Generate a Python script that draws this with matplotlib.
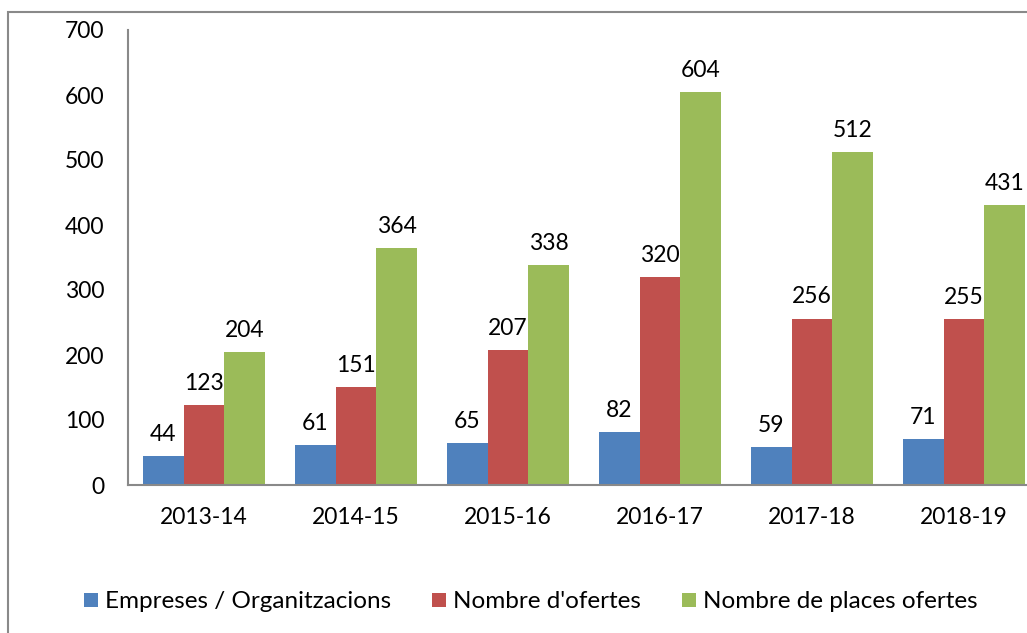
import matplotlib.pyplot as plt
import numpy as np
from matplotlib.patches import Rectangle

plt.rcParams['font.family'] = ['Lato', 'DejaVu Sans']

cursos = ['2013-14', '2014-15', '2015-16', '2016-17', '2017-18', '2018-19']
empreses = [44, 61, 65, 82, 59, 71]
ofertes = [123, 151, 207, 320, 256, 255]
places = [204, 364, 338, 604, 512, 431]
noms = ['Empreses / Organitzacions', "Nombre d'ofertes", 'Nombre de places ofertes']
colors = ['#4F81BD', '#C0504D', '#9BBB59']

fig = plt.figure(figsize=(10.27, 6.33), dpi=100)
# the chart is cut on the right in the original, so the axes run past the figure edge
ax = fig.add_axes([128/1027, 1-485/633, 912/1027, 455/633])

x = np.arange(len(cursos))
w = 0.8/3
series = [empreses, ofertes, places]
for i, vals in enumerate(series):
    bars = ax.bar(x + (i-1)*w, vals, w, color=colors[i], label=noms[i])
    for b, v in zip(bars, vals):
        ax.annotate(str(v), (b.get_x() + b.get_width()/2, v), xytext=(0, 8),
                    textcoords='offset points', ha='center', va='bottom', fontsize=16.5)

ax.set_xlim(-0.5, len(cursos)-0.5)
ax.set_ylim(0, 700)
ax.set_yticks(range(0, 701, 100))
ax.set_xticks(x)
ax.set_xticklabels(cursos)
ax.tick_params(axis='both', length=0, labelsize=16.5)
ax.tick_params(axis='y', pad=17)
ax.tick_params(axis='x', pad=16)
for s in ['top', 'right']:
    ax.spines[s].set_visible(False)
for s in ['left', 'bottom']:
    ax.spines[s].set_color('#898989')
    ax.spines[s].set_linewidth(1.5)

fig.legend(loc='center', bbox_to_anchor=(531/1027, 1-602/633), ncol=3, frameon=False,
           fontsize=17.5, handlelength=0.55, handleheight=0.55, handletextpad=0.3, columnspacing=1.7)

# grey frame around the chart
fig.patches.append(Rectangle((8/1027, -0.1), 1.1, 1-12/633+0.1, transform=fig.transFigure,
                             fill=False, edgecolor='#898989', linewidth=1.5))

plt.savefig('out.png', dpi=100)
